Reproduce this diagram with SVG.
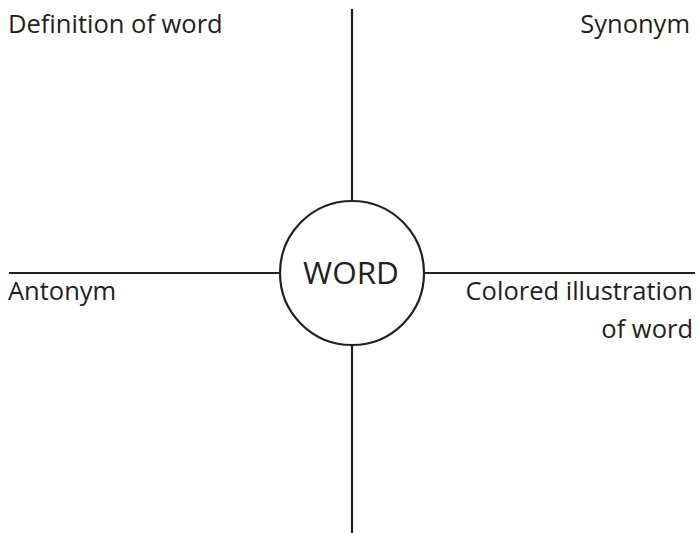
<svg xmlns="http://www.w3.org/2000/svg" width="698" height="533" viewBox="0 0 698 533">
<style>
.ln{stroke:#231f20;stroke-width:2.2;fill:none}
.t{font-family:"Open Sans","Noto Sans",sans-serif;font-size:25.5px;fill:#231f20}
</style>
<rect width="698" height="533" fill="#fff"/>
<g id="connectors">
<line class="ln" x1="352" y1="9" x2="352" y2="201"/>
<line class="ln" x1="352" y1="345" x2="352" y2="533"/>
<line class="ln" x1="9" y1="273" x2="281" y2="273"/>
<line class="ln" x1="423" y1="273" x2="695" y2="273"/>
</g>
<g id="word">
<circle class="ln" cx="352" cy="273" r="72"/>
<text class="t" x="351" y="284" text-anchor="middle" style="font-size:31.5px">WORD</text>
</g>
<g id="definition"><text class="t" x="8" y="33">Definition of word</text></g>
<g id="synonym"><text class="t" x="690" y="33" text-anchor="end">Synonym</text></g>
<g id="antonym"><text class="t" x="8" y="300">Antonym</text></g>
<g id="illustration"><text class="t" x="693" y="300" text-anchor="end">Colored illustration<tspan x="693" y="338">of word</tspan></text></g>
</svg>
